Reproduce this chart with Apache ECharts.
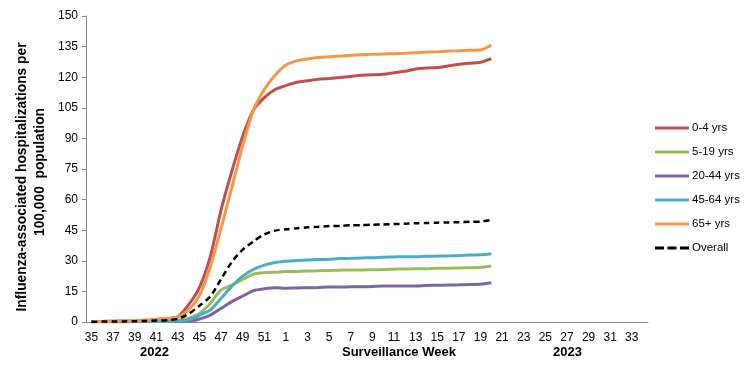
<!DOCTYPE html>
<html>
<head>
<meta charset="utf-8">
<script src="https://cdn.jsdelivr.net/npm/echarts@6/dist/echarts.min.js"></script>
<style>html,body{margin:0;padding:0;background:#fff}#c{width:756px;height:378px}</style>
</head>
<body>
<div id="c"></div>
<script>
const weeks = ['35','36','37','38','39','40','41','42','43','44','45','46','47','48','49','50','51','52',
  '1','2','3','4','5','6','7','8','9','10','11','12','13','14','15','16','17','18','19','20',
  '21','22','23','24','25','26','27','28','29','30','31','32','33','34'];
const yTicks = [0,15,30,45,60,75,90,105,120,135,150];
const age0_4 = [0.2,0.3,0.4,0.5,0.6,0.8,1.2,1.6,2.6,8.5,17,32,55,74,91,104,110,114,
  115.9,117.5,118.3,119,119.4,119.9,120.4,120.9,121.2,121.4,122.2,122.9,124,124.5,124.7,125.5,126.3,126.8,127.3,129.1];
const age5_19 = [0.1,0.1,0.1,0.2,0.2,0.3,0.4,0.5,0.9,1.8,4.2,9.1,15.7,18.1,20.9,23.5,24.2,24.4,
  24.7,24.8,25,25.1,25.3,25.4,25.5,25.5,25.6,25.7,25.9,26,26.1,26.1,26.3,26.3,26.5,26.6,26.8,27.5];
const age20_44 = [0.1,0.1,0.1,0.1,0.1,0.2,0.2,0.2,0.3,0.4,1.5,3.4,6.7,10,12.7,15.4,16.3,16.8,
  16.6,16.7,16.8,16.9,17.1,17.1,17.3,17.3,17.4,17.6,17.6,17.7,17.7,17.9,18,18.1,18.2,18.4,18.5,19.2];
const age45_64 = [0.1,0.1,0.1,0.1,0.2,0.2,0.3,0.3,0.5,1,3.4,5.9,11.6,17.6,22.5,25.8,27.9,29.2,
  29.8,30.1,30.4,30.6,30.8,31.1,31.2,31.4,31.5,31.8,31.9,32,32,32.2,32.3,32.4,32.5,32.8,33,33.5];
const age65 = [0.2,0.3,0.4,0.5,0.6,0.8,1.4,1.8,2.6,6,13,27,46,66,86.5,104,114,121,
  126,128,128.9,129.6,130,130.4,130.7,131,131.2,131.4,131.5,131.7,132,132.3,132.5,132.8,133,133.2,133.3,135.8];
const overall = [0.1,0.2,0.3,0.3,0.4,0.5,0.7,0.9,1.6,4,8,12.5,21,29.5,35.5,39.5,43,44.8,
  45.5,45.9,46.4,46.7,47,47.1,47.4,47.5,47.7,47.8,48,48.2,48.4,48.5,48.7,48.8,48.9,49.1,49.2,50];
const seriesNames = ['0-4 yrs','5-19 yrs','20-44 yrs','45-64 yrs','65+ yrs','Overall'];
const seriesData = [age0_4, age5_19, age20_44, age45_64, age65, overall];
const colors = ['#C0504D','#9BBB59','#8064A2','#4BACC6','#F79646','#000000'];

const FONT = 'Liberation Sans';
const SOLID_ICON = 'path://M0,0H34V3H0Z';
const DASH_ICON = 'path://M0,0H9V3H0Z M12.5,0H21.5V3H12.5Z M25,0H34V3H25Z';
const chart = echarts.init(document.getElementById('c'), null, {renderer:'canvas'});
chart.setOption({
  animation: false,
  backgroundColor: '#fff',
  grid: {left: 86, right: 108, top: 16, bottom: 56, containLabel: false},
  legend: {
    orient: 'vertical', left: 655, top: 122, padding: 0,
    itemWidth: 34, itemHeight: 3, itemGap: 12,
    textStyle: {fontFamily: FONT, fontSize: 11.5, color: '#000', padding: [0,0,0,-2]},
    data: seriesNames.map((n, i) => ({name: n, icon: i === 5 ? DASH_ICON : SOLID_ICON}))
  },
  xAxis: {
    type: 'category', data: weeks, boundaryGap: true,
    axisLine: {lineStyle: {color: '#868686', width: 1}},
    axisTick: {interval: 0, length: 4, lineStyle: {color: '#868686'}},
    axisLabel: {interval: 1, color: '#000', fontFamily: FONT, fontSize: 12, margin: 10}
  },
  yAxis: {
    type: 'value', min: yTicks[0], max: yTicks[yTicks.length-1], interval: 15,
    axisLine: {show: true, lineStyle: {color: '#868686'}},
    axisTick: {show: true, length: 4, lineStyle: {color: '#868686'}},
    splitLine: {show: false},
    axisLabel: {color: '#000', fontFamily: FONT, fontSize: 12, margin: 8}
  },
  graphic: [
    {type:'text', x: 22, y: 177, rotation: Math.PI/2,
      style:{text:'Influenza-associated hospitalizations per', font:'bold 13.8px "Liberation Sans"', fill:'#000', align:'center', verticalAlign:'middle'}},
    {type:'text', x: 40, y: 172, rotation: Math.PI/2,
      style:{text:'100,000  population', font:'bold 13.8px "Liberation Sans"', fill:'#000', align:'center', verticalAlign:'middle'}},
    {type:'text', left: 140, top: 346, style:{text:'2022', font:'bold 13px "Liberation Sans"', fill:'#000', textAlign:'center'}},
    {type:'text', left: 342, top: 346, style:{text:'Surveillance Week', font:'bold 13px "Liberation Sans"', fill:'#000', textAlign:'center'}},
    {type:'text', left: 553, top: 346, style:{text:'2023', font:'bold 13px "Liberation Sans"', fill:'#000', textAlign:'center'}}
  ],
  series: seriesNames.map((n, i) => ({
    name: n, type: 'line', data: seriesData[i],
    symbol: 'none', smooth: 0.25,
    lineStyle: {color: colors[i], width: i === 5 ? 2.5 : 3, type: i === 5 ? [6, 4] : 'solid'},
    itemStyle: {color: colors[i]},
    z: i === 5 ? 10 : 2
  }))
});
</script>
</body>
</html>
